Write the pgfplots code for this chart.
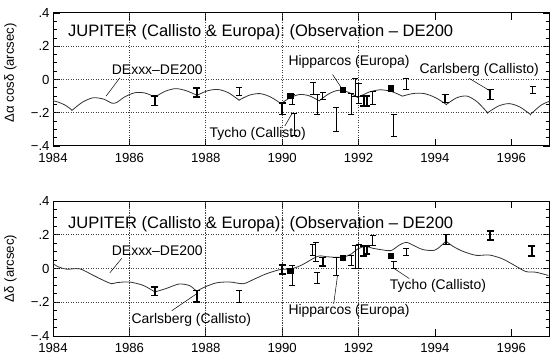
\documentclass[border=0pt]{standalone}
\usepackage{fontspec}
\setmainfont{Liberation Sans}
\usepackage{pgfplots}
\pgfplotsset{compat=1.18}
\usepackage{pgfplotstable}

\newcommand{\annfont}{\fontsize{14}{16}\selectfont}
\newcommand{\titlefont}{\fontsize{16.6}{19}\selectfont}

\tikzset{
  gridln/.style={black!75, line width=0.6bp, dash pattern=on 1.2bp off 1.3bp},
  pointer/.style={black, line width=0.5bp},
}

\pgfplotsset{
  jupbox/.style={
    scale only axis, width=496.5bp,
    xmin=1984, xmax=1997, ymin=-0.4, ymax=0.4,
    xtick={1984,1986,...,1996}, minor x tick num=3,
    ytick={-0.4,-0.2,0,0.2,0.4}, yticklabels={−.4,−.2,0,.2,.4},
    minor y tick num=3,
    tick align=inside, major tick length=7bp, minor tick length=4bp,
    axis line style={line width=1bp},
    every tick/.style={black, line width=0.8bp},
    tick label style={font=\fontsize{13.2}{15}\selectfont},
    xticklabel style={yshift=-4bp},
    /pgf/number format/assume math mode=true,
    /pgf/number format/1000 sep={},
    clip=false,
  },
  curve/.style={black!80, line width=0.8bp, smooth, tension=0.5, mark=none, empty line=jump},
  thickbar/.style={draw=none, mark=none, error bars/.cd, y dir=both, y explicit,
    error bar style={line width=2bp, black},
    error mark options={rotate=90, mark size=3.5bp, line width=1.6bp, black}},
  thinbar/.style={draw=none, mark=none, error bars/.cd, y dir=both, y explicit,
    error bar style={line width=0.7bp, black},
    error mark options={rotate=90, mark size=3bp, line width=0.7bp, black}},
  hipsq/.style={only marks, mark=square*, mark size=2.6bp, black},
}

% ---------- right ascension residuals ----------
\pgfplotstableread{
x y
1984.00 -0.128
1984.15 -0.137
1984.30 -0.152
1984.42 -0.170
1984.50 -0.185

1984.500 -0.185
1984.775 -0.136
1985.050 -0.110
1985.325 -0.118
1985.540 -0.142

1985.670 -0.138
1985.868 -0.106
1986.135 -0.080
1986.403 -0.081
1986.670 -0.105

1986.670 -0.105
1986.945 -0.070
1987.220 -0.055
1987.495 -0.068
1987.770 -0.095

1987.770 -0.095
1988.045 -0.068
1988.320 -0.060
1988.595 -0.080
1988.870 -0.124

1988.870 -0.124
1989.145 -0.094
1989.420 -0.085
1989.695 -0.105
1989.970 -0.145

1989.970 -0.145
1990.220 -0.108
1990.470 -0.090
1990.720 -0.099
1990.970 -0.128

1990.970 -0.128
1991.223 -0.086
1991.475 -0.065
1991.728 -0.076
1991.980 -0.108

1991.980 -0.108
1992.273 -0.076
1992.565 -0.062
1992.858 -0.072
1993.150 -0.100

1993.150 -0.100
1993.438 -0.084
1993.725 -0.085
1994.013 -0.109
1994.300 -0.150

1994.300 -0.150
1994.570 -0.110
1994.840 -0.100
1995.110 -0.135
1995.380 -0.200

1995.380 -0.200
1995.660 -0.160
1995.940 -0.145
1996.220 -0.165
1996.500 -0.210

1996.500 -0.210
1996.775 -0.155
1997.000 -0.131
}\racurve

\pgfplotstableread{
x y e
1986.67 -0.128 0.028
1987.77 -0.077 0.027
1990.00 -0.175 0.035
1992.13 -0.130 0.030
1992.22 -0.130 0.030
1994.27 -0.114 0.024
1995.45 -0.090 0.030
}\rathick

\pgfplotstableread{
x y e
1988.87 -0.073 0.023
1990.27 -0.122 0.030
1990.31 -0.270 0.065
1990.81 -0.054 0.038
1990.91 -0.150 0.060
1991.06 -0.100 0.020
1991.41 -0.240 0.070
1991.81 -0.147 0.065
1991.92 -0.047 0.055
1992.00 -0.082 0.060
1992.37 -0.110 0.040
1992.92 -0.277 0.065
1993.25 -0.028 0.032
1996.56 -0.064 0.020
}\rathin

\pgfplotstableread{
x y
1990.21 -0.098
1991.59 -0.060
1992.85 -0.052
}\rahip

% ---------- declination residuals ----------
\pgfplotstableread{
x y
1984.00 0.030
1984.12 0.012
1984.36 -0.004
1984.70 -0.002
1985.05 -0.040
1985.30 -0.068
1985.53 -0.090

1985.66 -0.084
1986.00 -0.080
1986.36 -0.100
1986.67 -0.139

1986.67 -0.139
1986.97 -0.118
1987.30 -0.092
1987.58 -0.102
1987.76 -0.135

1987.76 -0.135
1987.97 -0.110
1988.28 -0.085
1988.63 -0.080
1988.98 -0.090
1989.24 -0.066
1989.60 -0.030
1989.99 -0.004
1990.21 -0.004
1990.49 0.018
1990.93 0.072
1991.15 0.070
1991.41 0.066
1991.61 0.068
1991.81 0.086
1991.98 0.116
1992.18 0.131
1992.37 0.120
1992.64 0.110
1992.85 0.106
1993.07 0.139
1993.25 0.155
1993.46 0.135
1993.68 0.112
1993.99 0.108
1994.16 0.135
1994.29 0.162

1994.29 0.162
1994.47 0.132
1994.73 0.102
1995.08 0.078
1995.42 0.080
1995.77 0.057
1996.12 0.014
1996.38 -0.018
1996.64 -0.022
1996.97 -0.041
}\decurve

\pgfplotstableread{
x y e
1986.67 -0.135 0.025
1987.77 -0.165 0.035
1990.00 -0.005 0.027
1991.06 0.040 0.025
1992.13 0.105 0.030
1992.22 0.110 0.025
1994.29 0.172 0.030
1995.45 0.195 0.027
1996.54 0.105 0.030
}\dethick

\pgfplotstableread{
x y e
1988.88 -0.165 0.035
1990.27 -0.040 0.060
1990.80 0.110 0.035
1990.88 0.100 0.056
1990.91 -0.056 0.034
1991.41 0.013 0.053
1991.81 0.047 0.030
1991.92 0.067 0.068
1992.00 0.073 0.073
1992.37 0.165 0.030
1992.92 0.020 0.021
1993.25 0.098 0.022
}\dethin

\pgfplotstableread{
x y
1990.21 -0.012
1991.59 0.066
1992.85 0.076
}\dehip

\begin{document}
\frenchspacing
\begin{tikzpicture}
\useasboundingbox (0,0) rectangle (551bp,355bp);

% upper panel: Delta alpha cos delta
\begin{axis}[jupbox, at={(53bp,209bp)}, anchor=south west, height=133bp]
  \draw[gridln] (axis cs:1984,-0.2) -- (axis cs:1997,-0.2);
  \draw[gridln] (axis cs:1984,0) -- (axis cs:1997,0);
  \draw[gridln] (axis cs:1984,0.2) -- (axis cs:1997,0.2);
  \draw[gridln] (axis cs:1986,-0.4) -- (axis cs:1986,0.4);
  \draw[gridln] (axis cs:1988,-0.4) -- (axis cs:1988,0.4);
  \draw[gridln] (axis cs:1990,-0.4) -- (axis cs:1990,0.4);
  \draw[gridln] (axis cs:1992,-0.4) -- (axis cs:1992,0.4);
  \addplot[curve] table[x=x,y=y] {\racurve};
  \addplot[thickbar] table[x=x,y=y,y error=e] {\rathick};
  \addplot[thinbar] table[x=x,y=y,y error=e] {\rathin};
  \addplot[hipsq] table[x=x,y=y] {\rahip};
  \node[anchor=west, inner sep=0pt, font=\titlefont] at (axis cs:1984.39,0.285)
    {JUPITER (Callisto \& Europa): (Observation – DE200};
  \node[font=\annfont] at (axis cs:1986.73,0.06) {DExxx–DE200};
  \draw[pointer] (axis cs:1985.75,0.01) -- (axis cs:1985.39,-0.10);
  \node[font=\annfont] at (axis cs:1991.75,0.108) {Hipparcos (Europa)};
  \draw[pointer] (axis cs:1991.32,0.03) -- (axis cs:1991.55,-0.05);
  \node[font=\annfont] at (axis cs:1995.16,0.06) {Carlsberg (Callisto)};
  \draw[pointer] (axis cs:1994.9,0.006) -- (axis cs:1995.42,-0.065);
  \node[font=\annfont] at (axis cs:1989.36,-0.33) {Tycho (Callisto)};
  \draw[pointer] (axis cs:1990.07,-0.28) -- (axis cs:1990.27,-0.20);
  \node[rotate=90, font=\fontsize{13.2}{15}\selectfont] at (rel axis cs:-0.0856,0.55) {Δα cosδ (arcsec)};
\end{axis}

% lower panel: Delta delta
\begin{axis}[jupbox, at={(53bp,19bp)}, anchor=south west, height=135bp]
  \draw[gridln] (axis cs:1984,-0.2) -- (axis cs:1997,-0.2);
  \draw[gridln] (axis cs:1984,0) -- (axis cs:1997,0);
  \draw[gridln] (axis cs:1984,0.2) -- (axis cs:1997,0.2);
  \draw[gridln] (axis cs:1986,-0.4) -- (axis cs:1986,0.4);
  \draw[gridln] (axis cs:1988,-0.4) -- (axis cs:1988,0.4);
  \draw[gridln] (axis cs:1990,-0.4) -- (axis cs:1990,0.4);
  \draw[gridln] (axis cs:1992,-0.4) -- (axis cs:1992,0.4);
  \addplot[curve] table[x=x,y=y] {\decurve};
  \addplot[thickbar] table[x=x,y=y,y error=e] {\dethick};
  \addplot[thinbar] table[x=x,y=y,y error=e] {\dethin};
  \addplot[hipsq] table[x=x,y=y] {\dehip};
  \node[anchor=west, inner sep=0pt, font=\titlefont] at (axis cs:1984.39,0.265)
    {JUPITER (Callisto \& Europa): (Observation – DE200};
  \node[font=\annfont] at (axis cs:1986.73,0.106) {DExxx–DE200};
  \draw[pointer] (axis cs:1985.8,0.06) -- (axis cs:1985.49,-0.025);
  \node[font=\annfont] at (axis cs:1987.62,-0.306) {Carlsberg (Callisto)};
  \draw[pointer] (axis cs:1987.11,-0.25) -- (axis cs:1987.76,-0.15);
  \node[font=\annfont] at (axis cs:1991.75,-0.253) {Hipparcos (Europa)};
  \draw[pointer] (axis cs:1991.35,-0.21) -- (axis cs:1991.45,-0.04);
  \node[font=\annfont] at (axis cs:1994.08,-0.106) {Tycho (Callisto)};
  \draw[pointer] (axis cs:1992.94,-0.001) -- (axis cs:1993.33,-0.06);
  \node[rotate=90, font=\fontsize{13.2}{15}\selectfont] at (rel axis cs:-0.0856,0.5) {Δδ (arcsec)};
\end{axis}
\end{tikzpicture}
\end{document}
